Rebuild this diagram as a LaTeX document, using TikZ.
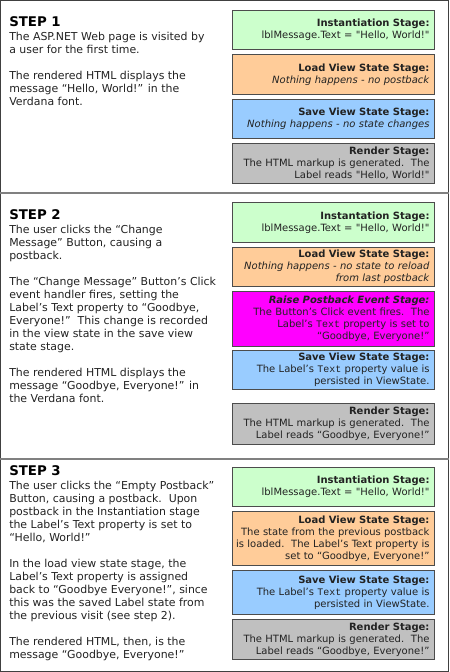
\documentclass[tikz,border=0pt]{standalone}
\usepackage{fontspec}
\setmainfont{DejaVu Sans}[Ligatures=TeXOff]
\setmonofont{Liberation Mono}
\definecolor{instgreen}{HTML}{CCFFCC}
\definecolor{loadorange}{HTML}{FFCC99}
\definecolor{saveblue}{HTML}{99CCFF}
\definecolor{rendergrey}{HTML}{C0C0C0}
\definecolor{raisemagenta}{HTML}{FF00FF}
\definecolor{inkgrey}{HTML}{222222}
\newcommand{\bodyfont}{\fontsize{8.2pt}{9.75pt}\selectfont}
\newcommand{\boxfont}{\fontsize{7.5pt}{9pt}\selectfont}
\newcommand{\stepfont}{\fontsize{10pt}{12pt}\selectfont\bfseries}
\newcommand{\gap}{\\[9.75pt]}
\newcommand{\code}[1]{{\ttfamily #1}}
\newcommand{\fitline}[1]{\makebox[0pt][r]{#1}}
\tikzset{
  stage/.style={draw=black!70, line width=0.75pt, anchor=north west,
    minimum width=151.5pt, text width=144pt, inner xsep=3.75pt,
    inner ysep=0pt, align=right, font=\boxfont, text=inkgrey},
  steptitle/.style={anchor=base west, inner sep=0pt, font=\stepfont, text=black},
  steptext/.style={anchor=north west, inner sep=0pt, align=left,
    font=\bodyfont, text=inkgrey},
  divider/.style={draw=black!50, line width=1.5pt},
}
\begin{document}
\begin{tikzpicture}[x=0.75pt,y=-0.75pt]
  \useasboundingbox (0,0) rectangle (450,672);
  % frame and dividers
  \draw[draw=black!75, line width=1.2pt] (0.6,0.6) rectangle (448.4,671.4);
  \draw[divider] (0,192.5) -- (449,192.5);
  \draw[divider] (0,458.5) -- (449,458.5);
  % step 1
  \node[steptitle] (title1) at (9,26) {STEP 1};
  \node[steptext] (text1) at (9,31) {\strut The ASP.NET Web page is visited by\\
    a user for the first time.\gap
    The rendered HTML displays the\\
    message “Hello, World!” in the\\
    Verdana font.};
  \node[stage, fill=instgreen, minimum height=29.25pt] (inst1) at (232,10)
    {\textbf{Instantiation Stage:}\\ lblMessage.Text = "Hello, World!"};
  \node[stage, fill=loadorange, minimum height=30pt] (load1) at (232,54)
    {\textbf{Load View State Stage:}\\ \textit{Nothing happens - no postback}};
  \node[stage, fill=saveblue, minimum height=29.25pt] (save1) at (232,99)
    {\textbf{Save View State Stage:}\\ \textit{Nothing happens - no state changes}};
  \node[stage, fill=rendergrey, minimum height=30pt] (render1) at (232,143)
    {\textbf{Render Stage:}\\ The HTML markup is generated.\ \ The\\
     Label reads "Hello, World!"};
  % step 2
  \node[steptitle] (title2) at (9,219) {STEP 2};
  \node[steptext] (text2) at (9,224) {\strut The user clicks the “Change\\
    Message” Button, causing a\\
    postback.\gap
    The “Change Message” Button’s Click\\
    event handler fires, setting the\\
    Label’s Text property to “Goodbye,\\
    Everyone!”\ \ This change is recorded\\
    in the view state in the save view\\
    state stage.\gap
    The rendered HTML displays the\\
    message “Goodbye, Everyone!” in\\
    the Verdana font.};
  \node[stage, fill=instgreen, minimum height=30pt] (inst2) at (232,202)
    {\textbf{Instantation Stage:}\\ lblMessage.Text = "Hello, World!"};
  \node[stage, fill=loadorange, minimum height=29.25pt] (load2) at (232,247)
    {\textbf{Load View State Stage:}\\ \textit{Nothing happens - no state to reload}\\
     \textit{from last postback}};
  \node[stage, fill=raisemagenta, minimum height=41.25pt] (raise2) at (232,291)
    {\textbf{\textit{Raise Postback Event Stage:}}\\ The Button’s Click event fires.\ \ The\\
     Label’s \code{Text} property is set to\\ “Goodbye, Everyone!”};
  \node[stage, fill=saveblue, minimum height=29.25pt] (save2) at (232,350)
    {\textbf{Save View State Stage:}\\ The Label’s \code{Text} property value is\\
     persisted in ViewState.};
  \node[stage, fill=rendergrey, minimum height=30.75pt] (render2) at (232,403)
    {\textbf{Render Stage:}\\ The HTML markup is generated.\ \ The\\
     Label reads “Goodbye, Everyone!”};
  % step 3
  \node[steptitle] (title3) at (9,475) {STEP 3};
  \node[steptext] (text3) at (9,480) {\strut The user clicks the “Empty Postback”\\
    Button, causing a postback.\ \ Upon\\
    postback in the Instantiation stage\\
    the Label’s Text property is set to\\
    “Hello, World!”\gap
    In the load view state stage, the\\
    Label’s Text property is assigned\\
    back to “Goodbye Everyone!”, since\\
    this was the saved Label state from\\
    the previous visit (see step 2).\gap
    The rendered HTML, then, is the\\
    message “Goodbye, Everyone!”};
  \node[stage, fill=instgreen, minimum height=29.25pt] (inst3) at (232,467)
    {\textbf{Instantiation Stage:}\\ lblMessage.Text = "Hello, World!"};
  \node[stage, fill=loadorange, minimum height=40.5pt] (load3) at (232,511)
    {\textbf{Load View State Stage:}\\ The state from the previous postback\\
     \fitline{is loaded.\ \ The Label’s Text property is}\\ set to “Goodbye, Everyone!”};
  \node[stage, fill=saveblue, minimum height=33pt] (save3) at (232,570)
    {\textbf{Save View State Stage:}\\ The Label’s \code{Text} property value is\\
     persisted in ViewState.};
  \node[stage, fill=rendergrey, minimum height=30pt] (render3) at (232,619)
    {\textbf{Render Stage:}\\ The HTML markup is generated.\ \ The\\
     Label reads “Goodbye, Everyone!”};
\end{tikzpicture}
\end{document}
